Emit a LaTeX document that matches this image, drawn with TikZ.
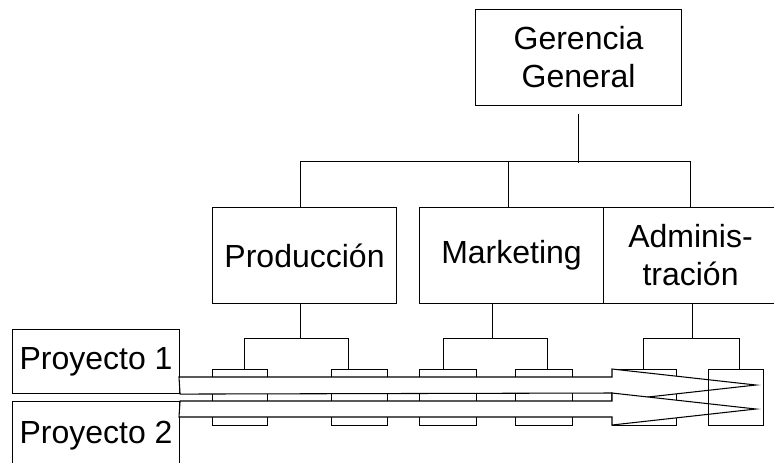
\documentclass[tikz,border=0pt]{standalone}
\usepackage{fontspec}
\setmainfont{Liberation Sans}
\usetikzlibrary{calc}
\begin{document}
\begin{tikzpicture}[x=0.75pt, y=-0.75pt, line width=0.8pt,
  orgbox/.style={draw, fill=white, inner sep=0pt, anchor=north west, align=center,
    font=\fontsize{24}{28.5}\selectfont},
  colbox/.style={draw, inner sep=0pt, anchor=north west, minimum height={56*0.75pt}},
  band/.style={draw, fill=white, line join=miter}]
\useasboundingbox (0,0) rectangle (774,462);
\clip (0,0) rectangle (774,462);

% organisation boxes
\node[orgbox, minimum width={206*0.75pt}, minimum height={96*0.75pt}] (ger) at (475,9) {Gerencia\\General};
\node[orgbox, minimum width={184*0.75pt}, minimum height={96*0.75pt}] (prod) at (212,207) {Producción};
\node[orgbox, minimum width={184*0.75pt}, minimum height={96*0.75pt}] (mkt) at (419,207) {Marketing};
\node[orgbox, minimum width={174*0.75pt}, minimum height={96*0.75pt}] (adm) at (603,207) {Adminis-\\tración};

% project boxes
\node[orgbox, minimum width={167*0.75pt}, minimum height={64*0.75pt}] (p1) at (12,329) {Proyecto 1};
\node[orgbox, minimum width={167*0.75pt}, minimum height={69*0.75pt}] (p2) at (12,401) {Proyecto 2};

% top-level connectors
\draw ([yshift=-6pt]ger.south) -- ++(0,48.5);
\draw ([xshift=-3pt]prod.north) -- ++(0,-45.5) -| (adm.north);
\draw ([xshift=-2.25pt]mkt.north) -- ++(0,-45.5);

% department columns
\node[colbox, fill=white, minimum width={55*0.75pt}] (c1) at (212,369) {};
\node[colbox, fill=white, minimum width={56*0.75pt}] (c2) at (331,369) {};
\node[colbox, fill=white, minimum width={57*0.75pt}] (c3) at (419,369) {};
\node[colbox, fill=white, minimum width={57*0.75pt}] (c4) at (515,369) {};
\node[colbox, fill=white, minimum width={64*0.75pt}] (c5) at (612,369) {};

% department-to-column connectors
\draw ([xshift=-3pt]prod.south) -- ++(0,34) coordinate (pj);
\draw ($(c1.north)+(4,0)$) |- (pj) -| ($(c2.north)+(-11,0)$);
\draw ([xshift=-14.25pt]mkt.south) -- ++(0,34) coordinate (mj);
\draw ($(c3.north)+(-4.5,0)$) |- (mj) -| ($(c4.north)+(3.5,0)$);
\draw ([xshift=1.5pt]adm.south) -- ++(0,34) coordinate (aj);
\draw ($(c5.north)+(-1,0)$) |- (aj);

% project arrows
\coordinate (tip1) at (756,385);
\coordinate (tip2) at (756,409);
\draw[band] (p1.south east) -- (612,393) -- (612,401) -- (tip1) -- (612,369) -- (612,377) -- (179,377) -- cycle;
\draw[band] (p2.north east) -- (612,401) -- (612,393) -- (tip2) -- (612,425) -- (612,417) -- (179,417) -- cycle;

% last column drawn over the arrow heads
\node[colbox, minimum width={55*0.75pt}] (c6) at (708,369) {};
\draw (aj) -| ($(c6.north)+(3.5,0)$);
\end{tikzpicture}
\end{document}
